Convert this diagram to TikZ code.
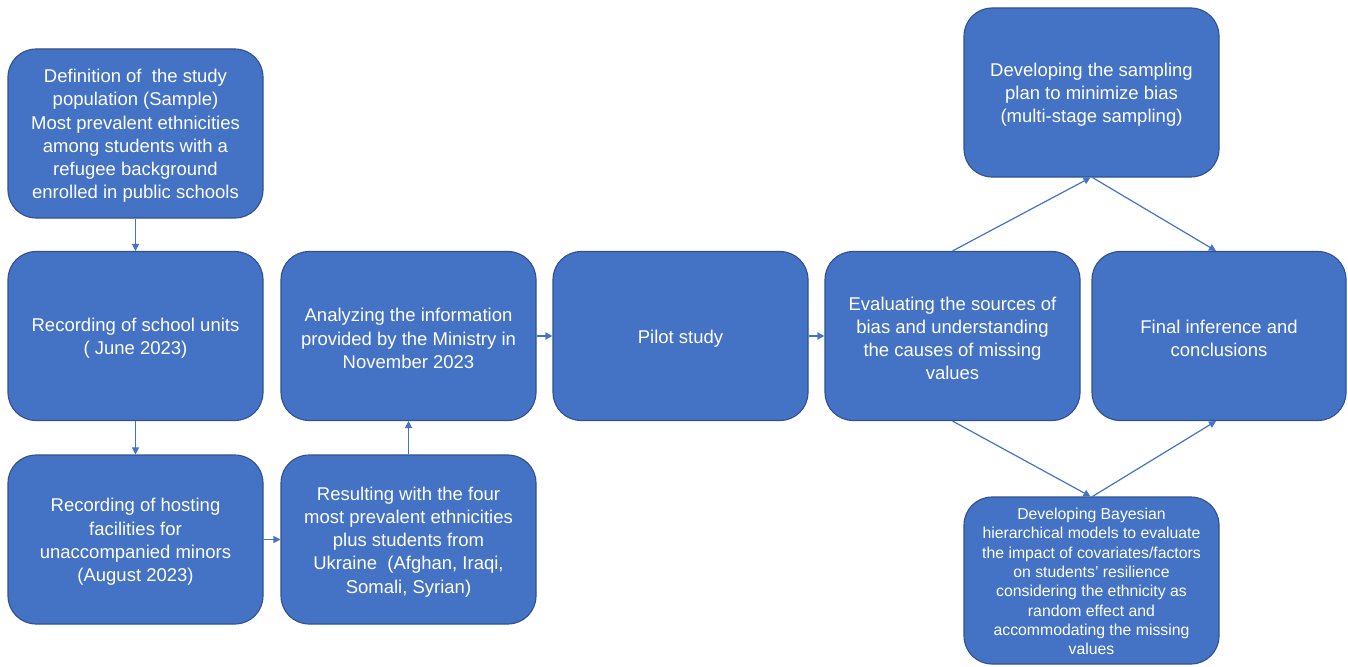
\documentclass[tikz,border=0pt]{standalone}
\usepackage{fontspec}
\setmainfont{Liberation Sans}
\usetikzlibrary{arrows.meta}
\definecolor{boxfill}{HTML}{4472C4}
\definecolor{boxline}{HTML}{2F528F}
\definecolor{arrowcol}{HTML}{4472C4}
\tikzset{
  flowbox/.style={draw=boxline, fill=boxfill, line width=1.1pt, rounded corners=28pt,
    minimum width=255pt, minimum height=169pt, inner sep=0pt},
  boxtext/.style={text=white, align=center, inner sep=0pt, yshift=-2.5pt,
    font=\fontsize{18.5}{23.2}\selectfont},
  smalltext/.style={text=white, align=center, inner sep=0pt, yshift=-1pt,
    font=\fontsize{15.8}{19.3}\selectfont},
  flowarrow/.style={draw=arrowcol, line width=1.2pt, -{Triangle[length=7pt,width=7pt]}}
}
\begin{document}
\begin{tikzpicture}[x=1pt,y=-1pt]
\useasboundingbox (0,0) rectangle (1348,666);
\node[flowbox, label={[boxtext]center:{Definition of\ \ the study\\population (Sample)\\Most prevalent ethnicities\\among students with a\\refugee background\\enrolled in public schools}}] (A) at (135.5,133.5) {};
\node[flowbox, label={[boxtext]center:{Recording of school units\\( June 2023)}}] (B) at (135.5,336) {};
\node[flowbox, label={[boxtext]center:{Recording of hosting\\facilities for\\unaccompanied minors\\(August 2023)}}] (C) at (135.5,539.5) {};
\node[flowbox, label={[boxtext]center:{Analyzing the information\\provided by the Ministry in\\November 2023}}] (D) at (408.5,336) {};
\node[flowbox, label={[boxtext]center:{Resulting with the four\\most prevalent ethnicities\\plus students from\\Ukraine\ \ (Afghan, Iraqi,\\Somali, Syrian)}}] (E) at (408.5,539.5) {};
\node[flowbox, label={[boxtext]center:{Pilot study}}] (F) at (680.5,336) {};
\node[flowbox, label={[boxtext]center:{Evaluating the sources of\\bias and understanding\\the causes of missing\\values}}] (G) at (952.5,336) {};
\node[flowbox, minimum width=254pt, label={[boxtext]center:{Final inference and\\conclusions}}] (H) at (1219,336) {};
\node[flowbox, label={[boxtext]center:{Developing the sampling\\plan to minimize bias\\(multi-stage sampling)}}] (I) at (1091.5,92.5) {};
\node[flowbox, minimum height=167pt, label={[smalltext]center:{Developing Bayesian\\hierarchical models to evaluate\\the impact of covariates/factors\\on students' resilience\\considering the ethnicity as\\random effect and\\accommodating the missing\\values}}] (J) at (1091.5,580.5) {};
\draw[flowarrow] (A.south) -- (B.north);
\draw[flowarrow] (B.south) -- (C.north);
\draw[flowarrow] (C.east) -- (E.west);
\draw[flowarrow] (E.north) -- (D.south);
\draw[flowarrow] (D.east) -- (F.west);
\draw[flowarrow] (F.east) -- (G.west);
\draw[flowarrow] (G.north) -- ([xshift=-1pt]I.south);
\draw[flowarrow] ([xshift=1pt]I.south) -- ([xshift=-3pt]H.north);
\draw[flowarrow] (G.south) -- ([xshift=-1pt]J.north);
\draw[flowarrow] ([xshift=1pt]J.north) -- ([xshift=-3pt]H.south);
\end{tikzpicture}
\end{document}
